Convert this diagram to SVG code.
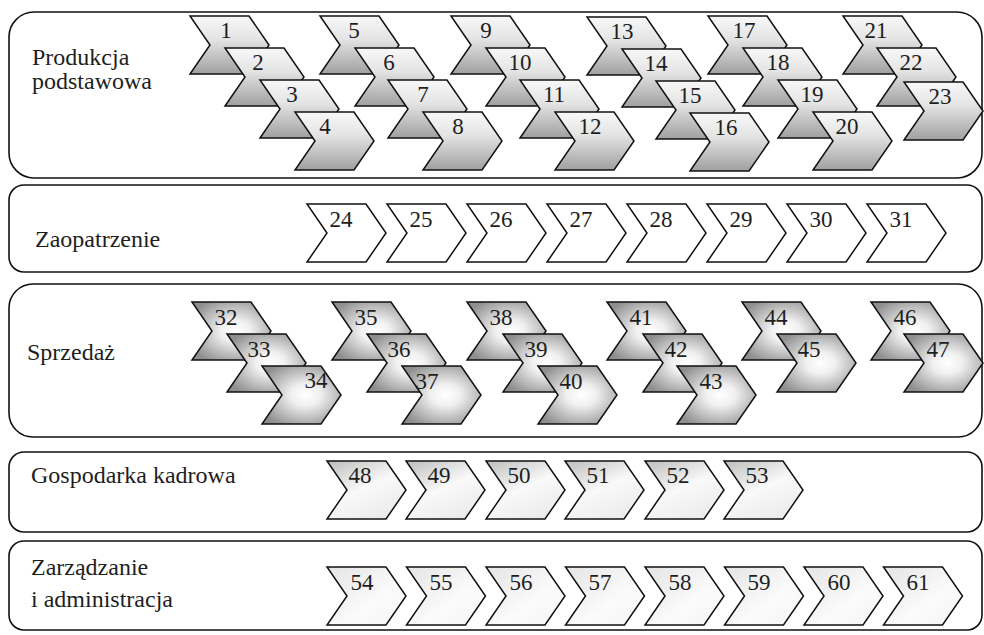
<svg xmlns="http://www.w3.org/2000/svg" xmlns:xlink="http://www.w3.org/1999/xlink" width="984" height="635" viewBox="0 0 984 635">
<style>
.panel{fill:#fff;stroke:#111;stroke-width:1.6}
.ch{stroke:#111;stroke-width:1.5;stroke-linejoin:miter}
.g1{fill:url(#gv)}
.g2{fill:#fff}
.g3{fill:url(#gr)}
.g4{fill:url(#gd)}
.g5{fill:url(#gl)}
.lbl{font-family:"Liberation Serif","Times New Roman",serif;font-size:23px;fill:#1e1e1e;text-anchor:middle}
.ttl{font-family:"Liberation Serif","Times New Roman",serif;font-size:24px;fill:#1e1e1e}
</style>
<defs>
<linearGradient id="gv" x1="0" y1="0" x2="0" y2="1">
<stop offset="0" stop-color="#f8f8f8"/>
<stop offset="0.4" stop-color="#e4e4e4"/>
<stop offset="1" stop-color="#a0a0a0"/>
</linearGradient>
<radialGradient id="gr" cx="0.55" cy="0.5" r="0.62">
<stop offset="0" stop-color="#ffffff"/>
<stop offset="0.3" stop-color="#f0f0f0"/>
<stop offset="1" stop-color="#8e8e8e"/>
</radialGradient>
<linearGradient id="gd" x1="0" y1="0" x2="0.6" y2="1">
<stop offset="0" stop-color="#bdbdbd"/>
<stop offset="0.55" stop-color="#f9f9f9"/>
<stop offset="1" stop-color="#ececec"/>
</linearGradient>
<linearGradient id="gl" x1="0" y1="0" x2="1" y2="1">
<stop offset="0" stop-color="#e4e4e4"/>
<stop offset="0.6" stop-color="#fbfbfb"/>
<stop offset="1" stop-color="#f4f4f4"/>
</linearGradient>
<polygon id="chev" points="0,0 59,0 79,29 59,58 0,58 20,29"/>
</defs>

<g id="lanes">
<g id="lane-produkcja"><rect class="panel" x="9" y="12" width="973" height="166" rx="25" ry="25"/>
<text class="ttl" x="32" y="65">Produkcja</text><text class="ttl" x="32" y="89">podstawowa</text></g>
<g id="lane-zaopatrzenie"><rect class="panel" x="9" y="185" width="973" height="87" rx="15" ry="15"/>
<text class="ttl" x="35" y="247">Zaopatrzenie</text></g>
<g id="lane-sprzedaz"><rect class="panel" x="9" y="284" width="973" height="153" rx="24" ry="24"/>
<text class="ttl" x="27" y="360">Sprzedaż</text></g>
<g id="lane-gospodarka"><rect class="panel" x="9" y="452" width="973" height="80" rx="15" ry="15"/>
<text class="ttl" x="31" y="483">Gospodarka kadrowa</text></g>
<g id="lane-zarzadzanie"><rect class="panel" x="9" y="541" width="973" height="89" rx="15" ry="15"/>
<text class="ttl" x="31" y="575">Zarządzanie</text><text class="ttl" x="31" y="607">i administracja</text></g>
</g>

<g id="connectors"></g>

<g id="nodes">
<g id="nodes-produkcja">
<g id="n1"><use href="#chev" class="ch g1" x="190" y="16"/><text class="lbl" x="226" y="38">1</text></g>
<g id="n2"><use href="#chev" class="ch g1" x="225" y="48"/><text class="lbl" x="258" y="70">2</text></g>
<g id="n3"><use href="#chev" class="ch g1" x="260" y="80"/><text class="lbl" x="292" y="102">3</text></g>
<g id="n4"><use href="#chev" class="ch g1" x="295" y="112"/><text class="lbl" x="325" y="134">4</text></g>
<g id="n5"><use href="#chev" class="ch g1" x="320" y="16"/><text class="lbl" x="354" y="38">5</text></g>
<g id="n6"><use href="#chev" class="ch g1" x="355" y="48"/><text class="lbl" x="389" y="70">6</text></g>
<g id="n7"><use href="#chev" class="ch g1" x="388" y="80"/><text class="lbl" x="423" y="102">7</text></g>
<g id="n8"><use href="#chev" class="ch g1" x="423" y="112"/><text class="lbl" x="458" y="134">8</text></g>
<g id="n9"><use href="#chev" class="ch g1" x="451" y="16"/><text class="lbl" x="486" y="38">9</text></g>
<g id="n10"><use href="#chev" class="ch g1" x="486" y="48"/><text class="lbl" x="520" y="70">10</text></g>
<g id="n11"><use href="#chev" class="ch g1" x="520" y="80"/><text class="lbl" x="554" y="102">11</text></g>
<g id="n12"><use href="#chev" class="ch g1" x="555" y="112"/><text class="lbl" x="590" y="134">12</text></g>
<g id="n13"><use href="#chev" class="ch g1" x="587" y="17"/><text class="lbl" x="622" y="39">13</text></g>
<g id="n14"><use href="#chev" class="ch g1" x="622" y="49"/><text class="lbl" x="656" y="71">14</text></g>
<g id="n15"><use href="#chev" class="ch g1" x="656" y="81"/><text class="lbl" x="690" y="103">15</text></g>
<g id="n16"><use href="#chev" class="ch g1" x="690" y="113"/><text class="lbl" x="726" y="135">16</text></g>
<g id="n17"><use href="#chev" class="ch g1" x="708" y="16"/><text class="lbl" x="744" y="38">17</text></g>
<g id="n18"><use href="#chev" class="ch g1" x="743" y="48"/><text class="lbl" x="778" y="70">18</text></g>
<g id="n19"><use href="#chev" class="ch g1" x="778" y="80"/><text class="lbl" x="812" y="102">19</text></g>
<g id="n20"><use href="#chev" class="ch g1" x="813" y="112"/><text class="lbl" x="847" y="134">20</text></g>
<g id="n21"><use href="#chev" class="ch g1" x="843" y="16"/><text class="lbl" x="876" y="38">21</text></g>
<g id="n22"><use href="#chev" class="ch g1" x="877" y="48"/><text class="lbl" x="911" y="70">22</text></g>
<g id="n23"><use href="#chev" class="ch g1" x="904" y="82"/><text class="lbl" x="940" y="104">23</text></g>
</g>

<g id="nodes-zaopatrzenie">
<g id="n24"><use href="#chev" class="ch g2" x="307" y="204"/><text class="lbl" x="341" y="227">24</text></g>
<g id="n25"><use href="#chev" class="ch g2" x="387" y="204"/><text class="lbl" x="421" y="227">25</text></g>
<g id="n26"><use href="#chev" class="ch g2" x="467" y="204"/><text class="lbl" x="501" y="227">26</text></g>
<g id="n27"><use href="#chev" class="ch g2" x="547" y="204"/><text class="lbl" x="581" y="227">27</text></g>
<g id="n28"><use href="#chev" class="ch g2" x="627" y="204"/><text class="lbl" x="661" y="227">28</text></g>
<g id="n29"><use href="#chev" class="ch g2" x="707" y="204"/><text class="lbl" x="741" y="227">29</text></g>
<g id="n30"><use href="#chev" class="ch g2" x="787" y="204"/><text class="lbl" x="821" y="227">30</text></g>
<g id="n31"><use href="#chev" class="ch g2" x="867" y="204"/><text class="lbl" x="901" y="227">31</text></g>
</g>

<g id="nodes-sprzedaz">
<g id="n32"><use href="#chev" class="ch g3" x="192" y="302"/><text class="lbl" x="226" y="325">32</text></g>
<g id="n33"><use href="#chev" class="ch g3" x="227" y="334"/><text class="lbl" x="259" y="357">33</text></g>
<g id="n34"><use href="#chev" class="ch g3" x="262" y="366"/><text class="lbl" x="316" y="388">34</text></g>
<g id="n35"><use href="#chev" class="ch g3" x="332" y="302"/><text class="lbl" x="366" y="325">35</text></g>
<g id="n36"><use href="#chev" class="ch g3" x="367" y="334"/><text class="lbl" x="399" y="357">36</text></g>
<g id="n37"><use href="#chev" class="ch g3" x="402" y="366"/><text class="lbl" x="427" y="389">37</text></g>
<g id="n38"><use href="#chev" class="ch g3" x="467" y="302"/><text class="lbl" x="501" y="325">38</text></g>
<g id="n39"><use href="#chev" class="ch g3" x="503" y="334"/><text class="lbl" x="536" y="357">39</text></g>
<g id="n40"><use href="#chev" class="ch g3" x="538" y="366"/><text class="lbl" x="571" y="389">40</text></g>
<g id="n41"><use href="#chev" class="ch g3" x="607" y="302"/><text class="lbl" x="641" y="325">41</text></g>
<g id="n42"><use href="#chev" class="ch g3" x="643" y="334"/><text class="lbl" x="676" y="357">42</text></g>
<g id="n43"><use href="#chev" class="ch g3" x="677" y="366"/><text class="lbl" x="711" y="389">43</text></g>
<g id="n44"><use href="#chev" class="ch g3" x="742" y="302"/><text class="lbl" x="776" y="325">44</text></g>
<g id="n45"><use href="#chev" class="ch g3" x="777" y="334"/><text class="lbl" x="809" y="357">45</text></g>
<g id="n46"><use href="#chev" class="ch g3" x="871" y="302"/><text class="lbl" x="905" y="325">46</text></g>
<g id="n47"><use href="#chev" class="ch g3" x="904" y="334"/><text class="lbl" x="938" y="357">47</text></g>
</g>

<g id="nodes-gospodarka">
<g id="n48"><use href="#chev" class="ch g4" x="327" y="461"/><text class="lbl" x="360" y="483">48</text></g>
<g id="n49"><use href="#chev" class="ch g4" x="406" y="461"/><text class="lbl" x="439" y="483">49</text></g>
<g id="n50"><use href="#chev" class="ch g4" x="486" y="461"/><text class="lbl" x="519" y="483">50</text></g>
<g id="n51"><use href="#chev" class="ch g4" x="565" y="461"/><text class="lbl" x="598" y="483">51</text></g>
<g id="n52"><use href="#chev" class="ch g4" x="645" y="461"/><text class="lbl" x="678" y="483">52</text></g>
<g id="n53"><use href="#chev" class="ch g4" x="724" y="461"/><text class="lbl" x="757" y="483">53</text></g>
</g>

<g id="nodes-zarzadzanie">
<g id="n54"><use href="#chev" class="ch g5" x="327" y="567"/><text class="lbl" x="362" y="590">54</text></g>
<g id="n55"><use href="#chev" class="ch g5" x="406.5" y="567"/><text class="lbl" x="441" y="590">55</text></g>
<g id="n56"><use href="#chev" class="ch g5" x="486" y="567"/><text class="lbl" x="521" y="590">56</text></g>
<g id="n57"><use href="#chev" class="ch g5" x="565.5" y="567"/><text class="lbl" x="600" y="590">57</text></g>
<g id="n58"><use href="#chev" class="ch g5" x="645" y="567"/><text class="lbl" x="680" y="590">58</text></g>
<g id="n59"><use href="#chev" class="ch g5" x="724.5" y="567"/><text class="lbl" x="759" y="590">59</text></g>
<g id="n60"><use href="#chev" class="ch g5" x="804" y="567"/><text class="lbl" x="839" y="590">60</text></g>
<g id="n61"><use href="#chev" class="ch g5" x="883.5" y="567"/><text class="lbl" x="918" y="590">61</text></g>
</g>
</g>
</svg>
